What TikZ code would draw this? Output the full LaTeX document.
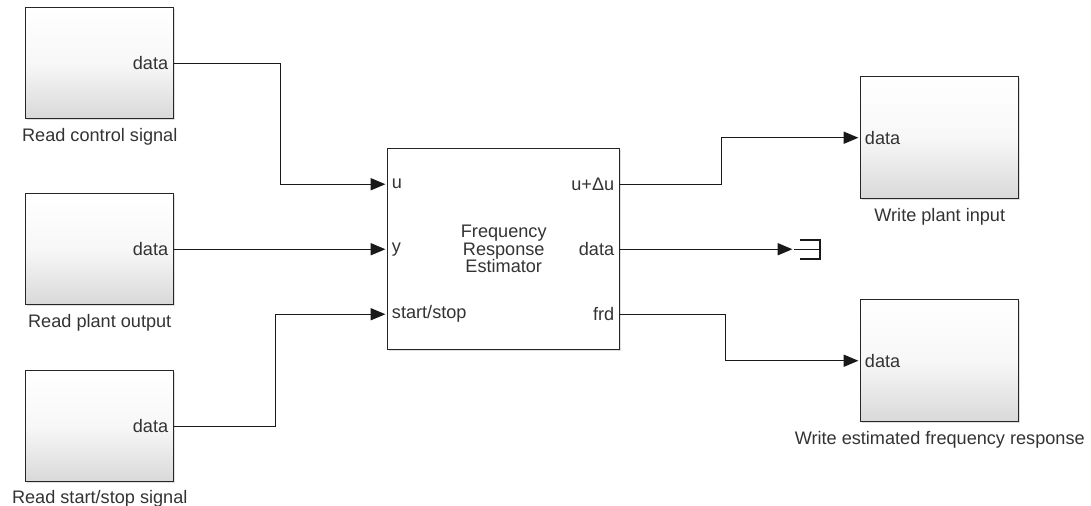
\documentclass[tikz,border=0pt]{standalone}
\usepackage{fontspec}
\setmainfont{Liberation Sans}
\usetikzlibrary{arrows.meta,shadows}
\begin{document}
\begin{tikzpicture}[x=0.75pt,y=-0.75pt,
  font=\fontsize{13.6pt}{15.6pt}\selectfont,
  blk/.style={draw=black!85,line width=1.1pt,anchor=north west,inner sep=0pt,
    top color=white,bottom color=black!15,middle color=black!3,
    drop shadow={shadow xshift=1.3pt,shadow yshift=-1.3pt,opacity=0.25}},
  rdblk/.style={blk,minimum width=111pt,minimum height=83.25pt},
  wrblk/.style={blk,minimum width=118.5pt,minimum height=91.5pt},
  mainblk/.style={draw=black!85,line width=1.1pt,anchor=north west,fill=white,inner sep=0pt,
    minimum width=174pt,minimum height=150.75pt,
    drop shadow={shadow xshift=1.3pt,shadow yshift=-1.3pt,opacity=0.25}},
  lab/.style={text=black!80,inner sep=0pt},
  sig/.style={draw=black!90,line width=1pt,shorten >=1.2pt,-{Triangle[length=11pt,width=9pt]}},
  wire/.style={draw=black!90,line width=1pt}
]
\useasboundingbox (0,0) rectangle (1091,506);

% Read blocks
\node[rdblk] (rc) at (25,7) {};
\node[rdblk] (rp) at (25,193) {};
\node[rdblk] (rs) at (25,370) {};
\node[lab,anchor=east] (rcp) at ([xshift=-4.5pt]rc.east) {data};
\node[lab,anchor=east] (rpp) at ([xshift=-4.5pt]rp.east) {data};
\node[lab,anchor=east] (rsp) at ([xshift=-4.5pt]rs.east) {data};
\node[lab,anchor=north] (rcl) at ([yshift=-6.5pt]rc.south) {Read control signal};
\node[lab,anchor=north] (rpl) at ([yshift=-6.5pt]rp.south) {Read plant output};
\node[lab,anchor=north] (rsl) at ([yshift=-6pt]rs.south) {Read start/stop signal};

% Main block
\node[mainblk] (fre) at (387,148) {};
\node[lab,align=center] (fret) at (fre.center) {Frequency\\[-2.4pt]Response\\[-2.4pt]Estimator};
\coordinate (fu) at ([yshift=48.75pt]fre.west);
\coordinate (fy) at (fre.west);
\coordinate (fs) at ([yshift=-48.75pt]fre.west);
\coordinate (fo1) at ([yshift=48.75pt]fre.east);
\coordinate (fo2) at (fre.east);
\coordinate (fo3) at ([yshift=-48.75pt]fre.east);
\node[lab,anchor=west] (fut) at ([xshift=3.5pt]fu) {u};
\node[lab,anchor=west] (fyt) at ([xshift=3.5pt]fy) {y};
\node[lab,anchor=west] (fst) at ([xshift=3.5pt]fs) {start/stop};
\node[lab,anchor=east] (fo1t) at ([xshift=-4.5pt]fo1) {u+Δu};
\node[lab,anchor=east] (fo2t) at ([xshift=-4.5pt]fo2) {data};
\node[lab,anchor=east] (fo3t) at ([xshift=-4.5pt]fo3) {frd};

% Write blocks
\node[wrblk] (wp) at (860,76) {};
\node[wrblk] (we) at (860,299) {};
\node[lab,anchor=west] (wpp) at ([xshift=3.5pt]wp.west) {data};
\node[lab,anchor=west] (wep) at ([xshift=3.5pt]we.west) {data};
\node[lab,anchor=north] (wpl) at ([yshift=-6.5pt]wp.south) {Write plant input};
\node[lab,anchor=north] (wel) at ([yshift=-6.5pt]we.south) {Write estimated frequency response};

% Terminator
\coordinate (term) at (fo2 -| 794,0);
\draw[wire] ([xshift=4.5pt,yshift=7pt]term) -- ++(20,0) -- ++(0,19) -- ++(-20,0);
\draw[wire] (term) -- ++(26,0);

% Connectors
\path[sig] (rc.east) -- ++(106,0) |- (fu);
\path[sig] (rp.east) -- (fy);
\path[sig] (rs.east) -- ++(101,0) |- (fs);
\path[sig] (fo1) -- ++(101,0) |- (wp.west);
\path[sig] (fo2) -- (term);
\path[sig] (fo3) -- ++(105,0) |- (we.west);
\end{tikzpicture}
\end{document}
